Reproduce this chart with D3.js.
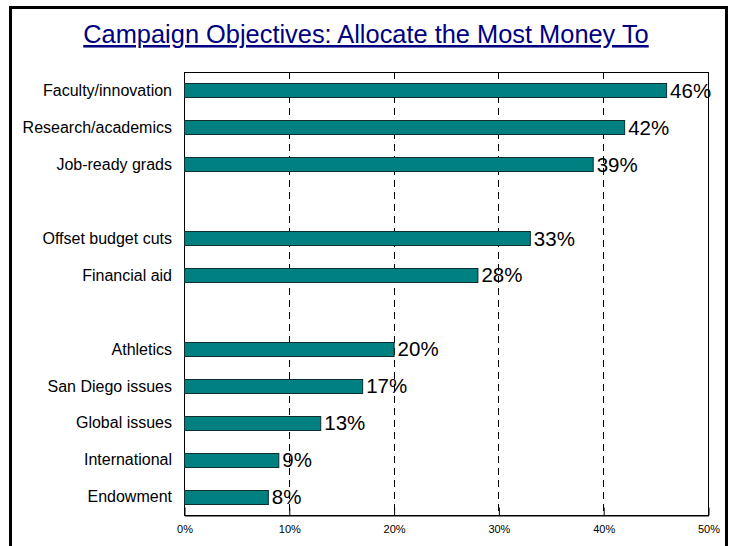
<!DOCTYPE html>
<html><head><meta charset="utf-8">
<script src="https://cdn.jsdelivr.net/npm/d3@7"></script>
<style>body{margin:0;background:#fff;} svg{display:block;font-family:Arial,"Liberation Sans",sans-serif;}</style>
</head><body>
<svg id="chart" width="730" height="546"></svg>
<script>
const title = "Campaign Objectives: Allocate the Most Money To";
const categories = ["Faculty/innovation","Research/academics","Job-ready grads","gap1","Offset budget cuts","Financial aid","gap2","Athletics","San Diego issues","Global issues","International","Endowment"];
const values = [46,42,39,null,33,28,null,20,17,13,9,8];
const tickValues = [0,10,20,30,40,50];

const svg = d3.select("#chart");
const m = {left:184, right:708, top:72, bottom:515};

// outer frame
svg.append("rect").attr("x",10.5).attr("y",7.5).attr("width",716).attr("height",560)
  .attr("fill","none").attr("stroke","#000").attr("stroke-width",3);

// title
svg.append("text").attr("x",366).attr("y",43).attr("text-anchor","middle")
  .attr("font-size",25.4).attr("fill","#000080").attr("text-decoration","underline").text(title);

const x = d3.scaleLinear().domain([0,50]).range([m.left,m.right]);
const y = d3.scaleBand().domain(categories).range([m.top,m.bottom]).paddingInner(0.62).paddingOuter(0.31);

// plot box
svg.append("rect").attr("x",m.left+0.5).attr("y",m.top+0.5).attr("width",m.right-m.left).attr("height",m.bottom-m.top)
  .attr("fill","none").attr("stroke","#000").attr("stroke-width",1);

// gridlines
svg.append("g").selectAll("line").data(tickValues.slice(1,-1)).join("line")
  .attr("x1",d=>Math.round(x(d))+0.5).attr("x2",d=>Math.round(x(d))+0.5)
  .attr("y1",m.top).attr("y2",m.bottom)
  .attr("stroke","#000").attr("stroke-width",1).attr("stroke-dasharray","7,5");

// bottom axis
const axis = d3.axisBottom(x).tickValues(tickValues).tickFormat(d=>d+"%").tickSizeInner(-8).tickSizeOuter(0).tickPadding(10);
const ga = svg.append("g").attr("transform",`translate(0.5,${m.bottom+0.5})`).call(axis);
ga.select(".domain").attr("stroke","#000");
ga.selectAll(".tick line").attr("stroke","#000");
ga.selectAll(".tick text").attr("font-size",11).attr("fill","#000").attr("font-family","Arial,'Liberation Sans',sans-serif");

const data = categories.map((c,i)=>({c,v:values[i]})).filter(d=>d.v!==null);

// bars
svg.append("g").selectAll("rect").data(data).join("rect")
  .attr("x",x(0)+0.5).attr("y",d=>Math.round(y(d.c))+0.5)
  .attr("width",d=>x(d.v)-x(0)).attr("height",Math.round(y.bandwidth()))
  .attr("fill","#008080").attr("stroke","#0f2e2e").attr("stroke-width",1);

// value labels
svg.append("g").selectAll("text").data(data).join("text")
  .attr("x",d=>x(d.v)+4).attr("y",d=>y(d.c)+y.bandwidth()/2)
  .attr("dy","0.36em").attr("font-size",20.5).attr("fill","#000").text(d=>d.v+"%");

// category labels
svg.append("g").selectAll("text").data(data).join("text")
  .attr("x",172).attr("y",d=>y(d.c)+y.bandwidth()/2)
  .attr("dy","0.36em").attr("text-anchor","end").attr("font-size",16).attr("fill","#000").text(d=>d.c);
</script>
</body></html>
